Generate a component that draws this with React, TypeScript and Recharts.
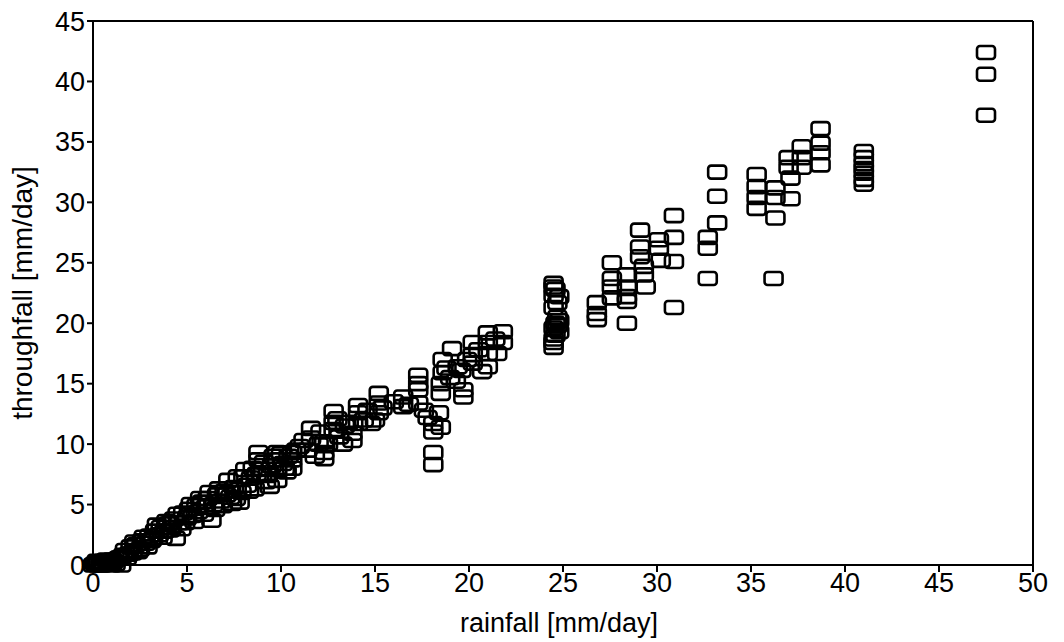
import React from "react";
import {
  ScatterChart,
  Scatter,
  XAxis,
  YAxis,
  ReferenceLine
} from "recharts";

// rainfall [mm/day] per day
const rainfall = [
  0.0, 0.1, 0.2, 0.3, 0.4, 0.5, 0.6, 0.8, 1.0, 1.0, 1.2, 1.3, 1.5, 1.6, 1.7, 1.8, 2.0, 2.1, 2.3, 2.5,
  2.6, 2.8, 3.0, 3.1, 3.3, 3.5, 3.6, 3.8, 4.0, 4.1, 4.3, 4.4, 4.6, 4.8, 5.0, 5.1, 5.3, 5.5, 5.6, 5.8,
  6.0, 6.1, 6.3, 6.4, 6.6, 6.8, 7.0, 7.2, 7.3, 7.4, 7.5, 7.7, 7.8, 7.9, 8.1, 8.2, 8.4, 8.6, 8.8, 8.8,
  8.9, 9.0, 9.2, 9.4, 9.5, 9.8, 9.8, 9.8, 9.8, 10.1, 10.3, 10.6, 10.6, 10.6,
  0.2, 0.5, 0.7, 0.9, 1.1, 1.4, 1.9, 2.2, 2.4, 2.7, 2.9, 3.2, 3.4, 3.7, 3.9, 4.2, 4.5, 4.7, 4.9, 5.2,
  5.4, 5.7, 5.9, 6.2, 6.5, 6.7, 6.9, 7.1, 7.6, 8.0, 8.3, 8.5, 8.7, 9.1, 9.3, 9.6, 10.0, 10.2, 10.4, 10.8,
  11.0, 11.4, 11.6, 11.6, 12.0, 12.3, 12.3, 12.3, 12.8, 12.8, 12.8, 13.1, 13.4, 13.8, 13.8, 14.1, 14.1,
  14.1, 14.8, 15.2, 15.2, 15.2, 16.5, 16.5, 17.3, 17.3, 17.3, 17.3, 17.6, 17.8, 18.1, 18.1, 18.4, 18.5,
  18.1, 18.1, 18.5, 18.5, 18.6, 18.6, 19.0, 19.1, 19.4, 19.6, 19.7, 19.7, 20.2, 20.2, 20.2, 21.0, 21.0,
  21.0, 21.0, 21.8, 21.8,
  11.2, 11.8, 12.1, 12.5, 13.0, 13.3, 13.6, 14.4, 14.6, 15.0, 15.4, 16.0, 16.8, 18.8, 19.3, 19.9, 20.5,
  20.7, 21.4, 21.5,
  24.5, 24.5, 24.5, 24.8, 24.5, 24.7, 24.6, 24.5, 24.8, 24.6, 24.5, 24.5, 24.8, 24.7, 24.6, 24.7, 24.5,
  26.8, 26.8, 26.8, 27.6,
  27.6, 27.6, 27.6, 28.4, 28.4, 28.4, 28.4, 28.4, 29.1, 29.1, 29.1, 29.3, 29.3, 29.4, 30.1, 30.1, 30.2,
  30.9, 30.9, 30.9, 30.9, 32.7, 32.7, 32.7, 33.2, 33.2, 33.2, 35.3, 35.3, 35.3, 35.3, 36.2, 36.3, 36.3,
  36.3, 37.0, 37.0, 37.1, 37.1, 37.7, 37.7, 37.7, 38.7, 38.7, 38.7, 38.7, 41.0, 41.0, 41.0, 41.0, 41.0,
  41.0, 41.0, 47.5, 47.5, 47.5
];

// throughfall [mm/day], same order as rainfall
const throughfall = [
  0.0, 0.1, 0.0, 0.2, 0.0, 0.3, 0.1, 0.2, 0.0, 0.4, 0.1, 0.5, 0.0, 0.8, 1.2, 0.6, 1.5, 1.0, 1.7, 1.3,
  2.0, 1.8, 2.4, 2.0, 2.8, 2.5, 3.1, 2.8, 3.4, 2.9, 3.8, 2.2, 3.5, 4.3, 3.9, 4.6, 4.1, 4.9, 4.4, 5.2,
  4.8, 5.5, 3.7, 5.0, 5.8, 5.3, 6.1, 7.0, 5.6, 5.1, 6.4, 7.3, 5.2, 6.0, 7.9, 6.6, 7.2, 6.3, 9.3, 8.7,
  7.9, 7.5, 6.9, 6.5, 8.2, 9.3, 8.7, 7.9, 7.0, 8.4, 7.7, 9.3, 8.7, 8.0,
  0.3, 0.0, 0.4, 0.1, 0.3, 0.6, 0.9, 1.9, 1.1, 2.3, 1.5, 2.2, 3.3, 2.3, 3.6, 3.1, 4.2, 3.0, 3.5, 5.0,
  3.6, 5.5, 4.2, 6.0, 4.6, 6.3, 4.9, 5.8, 5.5, 7.3, 6.1, 8.0, 7.5, 8.5, 7.4, 9.0, 9.2, 8.0, 9.0, 9.5,
  9.8, 9.5, 11.3, 10.5, 10.0, 10.2, 9.3, 8.8, 12.7, 11.8, 11.2, 10.6, 11.5, 10.9, 10.3, 13.2, 12.6,
  11.7, 11.7, 14.2, 13.4, 12.6, 13.9, 13.1, 15.7, 15.0, 14.5, 13.4, 12.8, 12.2, 11.7, 11.0, 12.6, 11.4,
  9.3, 8.3, 15.0, 14.2, 17.0, 15.9, 15.5, 17.9, 16.4, 16.1, 14.5, 13.9, 18.4, 17.4, 16.7, 19.2, 18.4,
  17.5, 16.4, 19.3, 18.4,
  10.3, 9.0, 11.0, 10.0, 12.1, 10.0, 11.8, 12.0, 12.8, 12.0, 13.0, 13.5, 13.3, 16.3, 15.2, 17.0, 17.8,
  16.0, 18.7, 17.5,
  23.3, 23.0, 22.3, 22.2, 21.3, 20.5, 20.0, 19.6, 19.3, 19.0, 18.4, 18.0, 20.2, 21.7, 22.8, 19.8, 18.7,
  21.7, 20.8, 20.3, 25.0,
  23.7, 23.0, 22.1, 24.0, 23.0, 22.2, 21.8, 20.0, 27.7, 26.3, 25.5, 24.7, 24.0, 23.0, 26.9, 26.2, 25.2,
  28.9, 27.1, 25.1, 21.3, 27.1, 26.2, 23.7, 32.5, 30.5, 28.3, 32.3, 31.3, 30.4, 29.5, 23.7, 31.2, 30.4,
  28.7, 33.7, 32.9, 32.0, 30.3, 34.6, 33.7, 32.9, 36.1, 34.9, 34.1, 33.1, 34.2, 33.7, 33.2, 32.8, 32.4,
  31.9, 31.5, 42.4, 40.6, 37.2
];

const xTicks = [0, 5, 10, 15, 20, 25, 30, 35, 40, 45, 50];
const yTicks = [0, 5, 10, 15, 20, 25, 30, 35, 40, 45];

const points = rainfall.map((r, i) => ({ x: r, y: throughfall[i] }));

const FONT = "'Liberation Sans', Arial, Helvetica, sans-serif";

const OpenSquare = (props: any) => {
  const { cx, cy } = props;
  if (cx == null || cy == null) return null;
  return (
    <rect
      x={cx - 9}
      y={cy - 6.5}
      width={18}
      height={13}
      rx={3}
      fill="none"
      stroke="#000"
      strokeWidth={2.6}
    />
  );
};

const XLabel = (props: any) => {
  const vb = props.viewBox || {};
  const x = vb.x + vb.width / 2;
  return (
    <text x={x - 4} y={623} textAnchor="middle" dominantBaseline="central" fontSize={27} fontFamily={FONT} fill="#000">
      rainfall [mm/day]
    </text>
  );
};

const YLabel = (props: any) => {
  const vb = props.viewBox || {};
  const y = vb.y + vb.height / 2;
  return (
    <text
      x={22}
      y={y}
      transform={`rotate(-90 22 ${y})`}
      textAnchor="middle"
      dominantBaseline="central"
      fontSize={28}
      fontFamily={FONT}
      fill="#000"
    >
      throughfall [mm/day]
    </text>
  );
};

export default function App() {
  const tickStyle = { fontSize: 27, fontFamily: FONT, fill: "#000" };
  return (
    <div style={{ position: "absolute", left: 0, top: 0, width: 1064, height: 642, background: "#fff" }}>
      <ScatterChart width={1064} height={642} margin={{ top: 21, right: 31, bottom: 0, left: 0 }}>
        <XAxis
          type="number"
          dataKey="x"
          domain={[0, 50]}
          ticks={xTicks}
          height={77}
          tick={tickStyle}
          stroke="#000"
          strokeWidth={2}
          tickSize={7}
          tickMargin={1}
          label={<XLabel />}
        />
        <YAxis
          type="number"
          dataKey="y"
          domain={[0, 45]}
          ticks={yTicks}
          width={93}
          tick={tickStyle}
          stroke="#000"
          strokeWidth={2}
          tickSize={6}
          tickMargin={2}
          label={<YLabel />}
        />
        <ReferenceLine y={45} stroke="#000" strokeWidth={2} />
        <ReferenceLine x={50} stroke="#000" strokeWidth={2} />
        <Scatter data={points} shape={<OpenSquare />} isAnimationActive={false} />
      </ScatterChart>
    </div>
  );
}
